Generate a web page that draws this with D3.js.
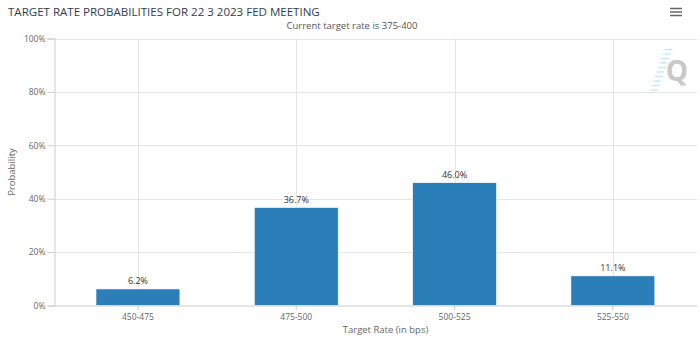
<!DOCTYPE html>
<html><head><meta charset="utf-8">
<script src="https://cdn.jsdelivr.net/npm/d3@7"></script>
<style>body{margin:0;background:#fff;} svg{display:block;font-family:"Open Sans",sans-serif;}</style>
</head><body><svg id="c" width="700" height="339"></svg>
<script>
const titleText = "TARGET RATE PROBABILITIES FOR 22 3 2023 FED MEETING";
const subtitleText = "Current target rate is 375-400";
const categories = ["450-475", "475-500", "500-525", "525-550"];
const probabilities = [6.2, 36.7, 46.0, 11.1];
const yTicks = [0, 20, 40, 60, 80, 100];
const xTitle = "Target Rate (in bps)";
const yTitle = "Probability";

const svg = d3.select("#c");
const pLeft = 54, pRight = 697, pTop = 38.5, pBottom = 305.5;

const x = d3.scaleBand().domain(categories).range([58.8, 692]).paddingInner(0.47).paddingOuter(0.235);
const y = d3.scaleLinear().domain([0, 100]).range([pBottom, pTop]);

// horizontal grid
svg.append("g").selectAll("line").data(yTicks.filter(d => d > 0)).join("line")
  .attr("x1", pLeft).attr("x2", pRight)
  .attr("y1", d => Math.round(y(d)) + 0.5).attr("y2", d => Math.round(y(d)) + 0.5)
  .attr("stroke", "#e6e6e6");
// vertical grid at category centers
svg.append("g").selectAll("line").data(categories).join("line")
  .attr("x1", d => Math.round(x(d) + x.bandwidth() / 2) + 0.5)
  .attr("x2", d => Math.round(x(d) + x.bandwidth() / 2) + 0.5)
  .attr("y1", pTop).attr("y2", pBottom)
  .attr("stroke", "#e6e6e6");

// y axis
const yAxis = svg.append("g").attr("transform", `translate(${pLeft + 0.5},0)`)
  .call(d3.axisLeft(y).tickValues(yTicks).tickFormat(d => d + "%").tickSize(7).tickPadding(2));
yAxis.select(".domain").attr("stroke", "#ccc");
yAxis.selectAll(".tick line").attr("stroke", "#ccc");
yAxis.selectAll(".tick text").attr("fill", "#666").style("font-size", "8.5px").style("font-family", "Open Sans");

// bars
svg.append("g").selectAll("rect").data(probabilities).join("rect")
  .attr("x", (d, i) => x(categories[i]))
  .attr("width", x.bandwidth())
  .attr("y", d => y(d))
  .attr("height", d => pBottom - y(d))
  .attr("fill", "#2a7fb8")
  .attr("stroke", "#fff").attr("stroke-width", 0.6);

// bar labels
svg.append("g").selectAll("text").data(probabilities).join("text")
  .attr("x", (d, i) => x(categories[i]) + x.bandwidth() / 2)
  .attr("y", d => y(d) - 5)
  .attr("text-anchor", "middle")
  .attr("fill", "#333")
  .style("font-size", "9px")
  .text(d => d.toFixed(1) + "%");

// x axis
const xAxis = svg.append("g").attr("transform", `translate(0,${pBottom})`)
  .call(d3.axisBottom(x).tickSize(5).tickPadding(3));
xAxis.select(".domain").remove();
svg.append("line").attr("x1", pLeft).attr("x2", pRight).attr("y1", pBottom + 0.5).attr("y2", pBottom + 0.5).attr("stroke", "#ccc");
xAxis.selectAll(".tick line").attr("stroke", "#ccc");
xAxis.selectAll(".tick text").attr("fill", "#666").style("font-size", "8.5px").style("font-family", "Open Sans");

// axis titles
svg.append("text").attr("x", (pLeft + pRight) / 2 + 10).attr("y", 333).attr("text-anchor", "middle")
  .attr("fill", "#666").style("font-size", "9.5px").text(xTitle);
svg.append("text").attr("transform", `translate(15,${(pTop + pBottom) / 2}) rotate(-90)`).attr("text-anchor", "middle")
  .attr("fill", "#666").style("font-size", "9.5px").text(yTitle);

// title
const t = svg.append("text").attr("x", 8).attr("y", 16).attr("fill", "#333c4e")
  .style("font-size", "14px").text(titleText);
const tw = t.node().getComputedTextLength();
t.style("font-size", (14 * 312 / tw).toFixed(2) + "px");
svg.append("text").attr("x", 352).attr("y", 29).attr("text-anchor", "middle")
  .attr("fill", "#555").style("font-size", "9.5px").text(subtitleText);

// menu icon
svg.append("g").selectAll("line").data([0, 1, 2]).join("line")
  .attr("x1", 670).attr("x2", 682).attr("y1", d => 8.5 + d * 3.5).attr("y2", d => 8.5 + d * 3.5)
  .attr("stroke", "#666").attr("stroke-width", 1.5);

// watermark
const wm = svg.append("g");
[0,1,2,3,4,5,6,7,8,9].forEach(i => {
  wm.append("line").attr("x1", 654 + i * 1.6 - 4).attr("x2", 654 + i * 1.6 + 4)
    .attr("y1", 90 - i * 4.5).attr("y2", 90 - i * 4.5)
    .attr("stroke", "#bfe6f5").attr("stroke-width", 1.2);
});
svg.append("text").attr("x", 677).attr("y", 81).attr("text-anchor", "middle")
  .attr("fill", "#c8c8c8").style("font-size", "28px").style("font-weight", "bold").text("Q");
</script></body></html>
